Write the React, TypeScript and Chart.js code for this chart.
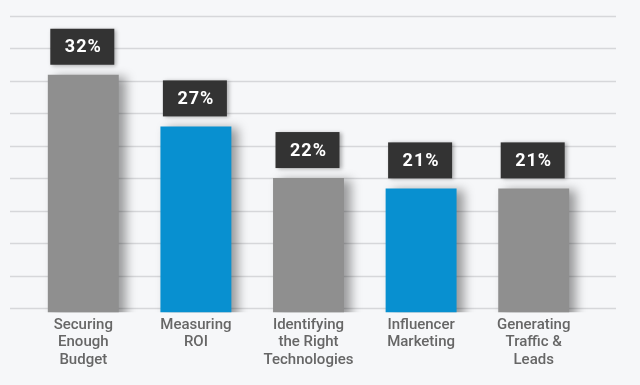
import React, { useEffect, useRef } from "react";
import { Chart, registerables } from "chart.js";

Chart.register(...registerables);

const categories: string[][] = [
  ["Securing", "Enough", "Budget"],
  ["Measuring", "ROI"],
  ["Identifying", "the Right", "Technologies"],
  ["Influencer", "Marketing"],
  ["Generating", "Traffic &", "Leads"],
];
const values: number[] = [32, 27, 22, 21, 21];
const valueLabels: string[] = ["32%", "27%", "22%", "21%", "21%"];
const barColors: string[] = ["#8f8f8f", "#0890d0", "#8f8f8f", "#0890d0", "#8f8f8f"];

const BG = "#f6f7f9";

const gridPlugin = {
  id: "customGrid",
  beforeDatasetsDraw(chart: any) {
    const { ctx } = chart;
    const y = chart.scales.y;
    ctx.save();
    ctx.strokeStyle = "#d6d7da";
    ctx.lineWidth = 1.5;
    y.ticks.forEach((t: any) => {
      const py = Math.round(y.getPixelForValue(t.value)) - 3.5;
      ctx.beginPath();
      ctx.moveTo(10, py);
      ctx.lineTo(616, py);
      ctx.stroke();
    });
    ctx.restore();
  },
};

const shadowPlugin = {
  id: "barShadow",
  beforeDatasetDraw(chart: any) {
    const { ctx } = chart;
    ctx.save();
    ctx.shadowColor = "rgba(0,0,0,0.38)";
    ctx.shadowBlur = 10;
    ctx.shadowOffsetX = 7;
    ctx.shadowOffsetY = 2;
  },
  afterDatasetDraw(chart: any) {
    chart.ctx.restore();
  },
};

const labelPlugin = {
  id: "valueBoxes",
  afterDatasetsDraw(chart: any) {
    const { ctx } = chart;
    const meta = chart.getDatasetMeta(0);
    meta.data.forEach((bar: any, i: number) => {
      const w = 64;
      const h = 36;
      const cx = bar.x - 1;
      const bottom = bar.y - 10;
      const x0 = cx - w / 2;
      const y0 = bottom - h;
      ctx.save();
      ctx.shadowColor = "rgba(0,0,0,0.3)";
      ctx.shadowBlur = 4;
      ctx.shadowOffsetX = 2;
      ctx.shadowOffsetY = 1;
      ctx.fillStyle = "#333333";
      ctx.fillRect(x0, y0, w, h);
      ctx.restore();
      ctx.save();
      ctx.fillStyle = "#ffffff";
      ctx.font = "bold 18px Roboto, 'Noto Sans', sans-serif";
      try {
        (ctx as any).letterSpacing = "1px";
      } catch (e) {}
      ctx.textAlign = "center";
      ctx.textBaseline = "middle";
      ctx.fillText(valueLabels[i], cx + 1, y0 + h / 2 + 1);
      ctx.restore();
    });
  },
};

const bgPlugin = {
  id: "bg",
  beforeDraw(chart: any) {
    const { ctx, width, height } = chart;
    ctx.save();
    ctx.fillStyle = BG;
    ctx.fillRect(0, 0, width, height);
    ctx.restore();
  },
};

export default function App() {
  const ref = useRef<HTMLCanvasElement>(null);
  useEffect(() => {
    document.body.style.margin = "0";
    document.body.style.background = BG;
    const chart = new Chart(ref.current as HTMLCanvasElement, {
      type: "bar",
      data: {
        labels: categories,
        datasets: [
          {
            data: values,
            backgroundColor: barColors,
            borderWidth: 0,
            barPercentage: 0.63,
            categoryPercentage: 1,
          },
        ],
      },
      options: {
        animation: false,
        responsive: false,
        maintainAspectRatio: false,
        layout: { padding: { left: 27, right: 50, top: 20, bottom: 12 } },
        plugins: {
          legend: { display: false },
          tooltip: { enabled: false },
        },
        scales: {
          y: {
            display: false,
            min: 9,
            max: 37.3,
            ticks: { count: 10 },
            grid: { display: false },
          },
          x: {
            grid: { display: false, drawTicks: false },
            border: { display: false },
            ticks: {
              color: "#666666",
              padding: 4,
              maxRotation: 0,
              autoSkip: false,
              font: {
                family: "Roboto, 'Noto Sans', sans-serif",
                size: 15,
                weight: 500,
                lineHeight: 1.17,
              },
            },
          },
        },
      },
      plugins: [bgPlugin, gridPlugin, shadowPlugin, labelPlugin],
    });
    return () => chart.destroy();
  }, []);
  return (
    <div style={{ width: 640, height: 385, background: BG }}>
      <canvas ref={ref} width={640} height={385} style={{ display: "block" }} />
    </div>
  );
}
